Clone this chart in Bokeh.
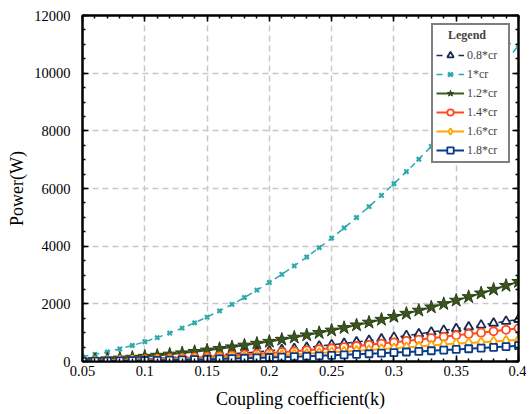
from bokeh.plotting import figure
from bokeh.models import (Range1d, LinearAxis, FixedTicker, Legend, LegendItem,
                          CustomLabelingPolicy, CustomJSTickFormatter)
from bokeh.embed import file_html
from bokeh.resources import INLINE

# Data: coupling coefficient k and output power (W) for each current ratio
k = [0.05, 0.06, 0.07, 0.08, 0.09, 0.10, 0.11, 0.12, 0.13, 0.14, 0.15, 0.16,
     0.17, 0.18, 0.19, 0.20, 0.21, 0.22, 0.23, 0.24, 0.25, 0.26, 0.27, 0.28,
     0.29, 0.30, 0.31, 0.32, 0.33, 0.34, 0.35, 0.36, 0.37, 0.38, 0.39, 0.40]

p08 = [25, 35, 47, 60, 75, 92, 111, 132, 155, 180, 206, 235,
       265, 298, 333, 370, 408, 448, 490, 535, 580, 628, 678, 730,
       784, 840, 898, 958, 1020, 1080, 1140, 1200, 1265, 1330, 1395, 1460]
p10 = [171, 247, 336, 438, 555, 685, 829, 986, 1158, 1343, 1541, 1754,
       1980, 2219, 2473, 2740, 3021, 3315, 3624, 3946, 4281, 4631, 4994, 5370,
       5761, 6165, 6583, 7014, 7460, 7919, 8391, 8878, 9378, 9891, 10419, 10960]
p12 = [43, 62, 85, 111, 140, 173, 209, 249, 292, 339, 389, 443,
       500, 561, 625, 692, 763, 837, 915, 996, 1081, 1169, 1261, 1356,
       1455, 1557, 1663, 1772, 1884, 2000, 2119, 2242, 2368, 2498, 2631, 2768]
p14 = [18, 26, 36, 47, 59, 73, 88, 105, 123, 143, 164, 187,
       211, 237, 264, 293, 323, 355, 389, 424, 460, 498, 538, 579,
       622, 666, 712, 759, 808, 858, 910, 955, 1000, 1050, 1100, 1150]
p16 = [12, 18, 25, 33, 42, 52, 63, 75, 88, 102, 117, 133,
       150, 168, 187, 207, 228, 250, 273, 297, 322, 348, 375, 403,
       432, 462, 492, 523, 555, 588, 621, 645, 670, 695, 720, 748]
p18 = [8, 12, 17, 22, 28, 35, 42, 50, 59, 68, 78, 89,
       100, 112, 125, 138, 152, 167, 182, 198, 215, 232, 250, 269,
       288, 308, 329, 350, 372, 395, 418, 442, 467, 492, 518, 550]

labels = ["0.8*cr", "1*cr", "1.2*cr", "1.4*cr", "1.6*cr", "1.8*cr"]
x_ticks = [0.05, 0.1, 0.15, 0.2, 0.25, 0.3, 0.35, 0.4]
x_tick_labels = ["0.05", "0.1", "0.15", "0.2", "0.25", "0.3", "0.35", "0.4"]
y_ticks = [0, 2000, 4000, 6000, 8000, 10000, 12000]

FONT = "Liberation Serif"

p = figure(width=526, height=411, output_backend="svg", toolbar_location=None,
           x_range=Range1d(0.05, 0.4), y_range=Range1d(0, 12000),
           min_border_left=82, min_border_right=8, min_border_top=15, min_border_bottom=48,
           x_axis_label="Coupling coefficient(k)", y_axis_label="Power(W)")

p.outline_line_color = "black"
p.outline_line_width = 2
p.background_fill_color = "white"
p.border_fill_color = "white"

# grid
for g in (p.xgrid, p.ygrid):
    g.grid_line_color = "#c8c8c8"
    g.grid_line_dash = "6 4"
    g.grid_line_width = 1.5
p.xgrid.ticker = FixedTicker(ticks=x_ticks)
p.ygrid.ticker = FixedTicker(ticks=y_ticks)

def style_axis(ax, ticks, minor):
    ax.ticker = FixedTicker(ticks=ticks, minor_ticks=minor)
    ax.axis_line_color = "black"
    ax.axis_line_width = 2
    ax.major_tick_in = 6
    ax.major_tick_out = 0
    ax.minor_tick_in = 3
    ax.minor_tick_out = 0
    ax.major_tick_line_width = 1.5
    ax.minor_tick_line_width = 1.5
    ax.major_label_text_font = FONT
    ax.major_label_text_font_size = "14.5px"
    ax.major_label_text_color = "black"
    ax.axis_label_text_font = FONT
    ax.axis_label_text_font_size = "18px"
    ax.axis_label_text_font_style = "normal"
    ax.axis_label_text_color = "black"

x_minor = [round(0.05 + 0.01 * i, 2) for i in range(36)]
y_minor = [500 * i for i in range(25)]

style_axis(p.xaxis[0], x_ticks, x_minor)
style_axis(p.yaxis[0], y_ticks, y_minor)
p.xaxis[0].major_label_overrides = dict(zip(x_ticks, x_tick_labels))
p.xaxis[0].major_label_standoff = 4
p.yaxis[0].major_label_standoff = 12
p.xaxis[0].axis_label_standoff = 10
p.yaxis[0].axis_label_standoff = 4

# ticks on the top and right sides too, without labels
no_labels = CustomLabelingPolicy(code="""
for (let i = 0; i < indices.size; i++) { indices.unset(i) }
return indices
""")
blank = CustomJSTickFormatter(code="return ''")
top = LinearAxis()
right = LinearAxis()
style_axis(top, x_ticks, x_minor)
style_axis(right, y_ticks, y_minor)
for ax in (top, right):
    ax.formatter = blank
    ax.major_label_policy = no_labels
    ax.major_label_standoff = 0
p.add_layout(top, "above")
p.add_layout(right, "right")

# series
navy = "#1c2b4f"
teal = "#2fa8ac"
green = "#3c5a22"
red = "#ff4a1c"
orange = "#ffa600"
blue = "#0b3b86"

l1 = p.line(k, p08, line_color=navy, line_width=1.5, line_dash="6 5")
m1 = p.scatter(k, p08, marker="triangle", size=9, line_color=navy, line_width=1.8, fill_color="white")

l2 = p.line(k, p10, line_color=teal, line_width=1.5, line_dash="6 5")
m2 = p.scatter(k, p10, marker="x", size=6, line_color=teal, line_width=2.2)

l3 = p.line(k, p12, line_color=green, line_width=2)
m3 = p.scatter(k, p12, marker="star", size=14, line_color="#2a3f15", line_width=1, fill_color="#3a5520")

l4 = p.line(k, p14, line_color=red, line_width=2)
m4 = p.scatter(k, p14, marker="circle", size=8, line_color=red, line_width=1.8, fill_color="white")

l5 = p.line(k, p16, line_color=orange, line_width=2)
m5 = p.scatter(k, p16, marker="diamond", size=10, line_color=orange, line_width=1.8, fill_color="white")

l6 = p.line(k, p18, line_color=blue, line_width=2)
m6 = p.scatter(k, p18, marker="square", size=7, line_color=blue, line_width=1.8, fill_color="white")

items = [LegendItem(label=labels[i], renderers=r) for i, r in enumerate(
    [[l1, m1], [l2, m2], [l3, m3], [l4, m4], [l5, m5], [l6, m6]])]
legend = Legend(items=items, location="top_right", title="\u00a0\u00a0\u00a0\u00a0Legend")
legend.title_text_font = FONT
legend.title_text_font_style = "bold"
legend.title_text_font_size = "12px"
legend.title_standoff = 4
legend.label_text_font = FONT
legend.label_text_font_size = "12px"
legend.border_line_color = "black"
legend.border_line_width = 2
legend.background_fill_alpha = 1
legend.glyph_width = 28
legend.glyph_height = 16
legend.label_height = 16
legend.label_width = 38
legend.label_standoff = 3
legend.spacing = 3
legend.padding = 3
legend.margin = 8
p.add_layout(legend, "center")

# rule under the legend title
p.segment(x0=[0.330], y0=[11030], x1=[0.3935], y1=[11030], line_color="black",
          line_width=2, level="overlay")

open("out.html", "w").write(file_html(p, INLINE))
